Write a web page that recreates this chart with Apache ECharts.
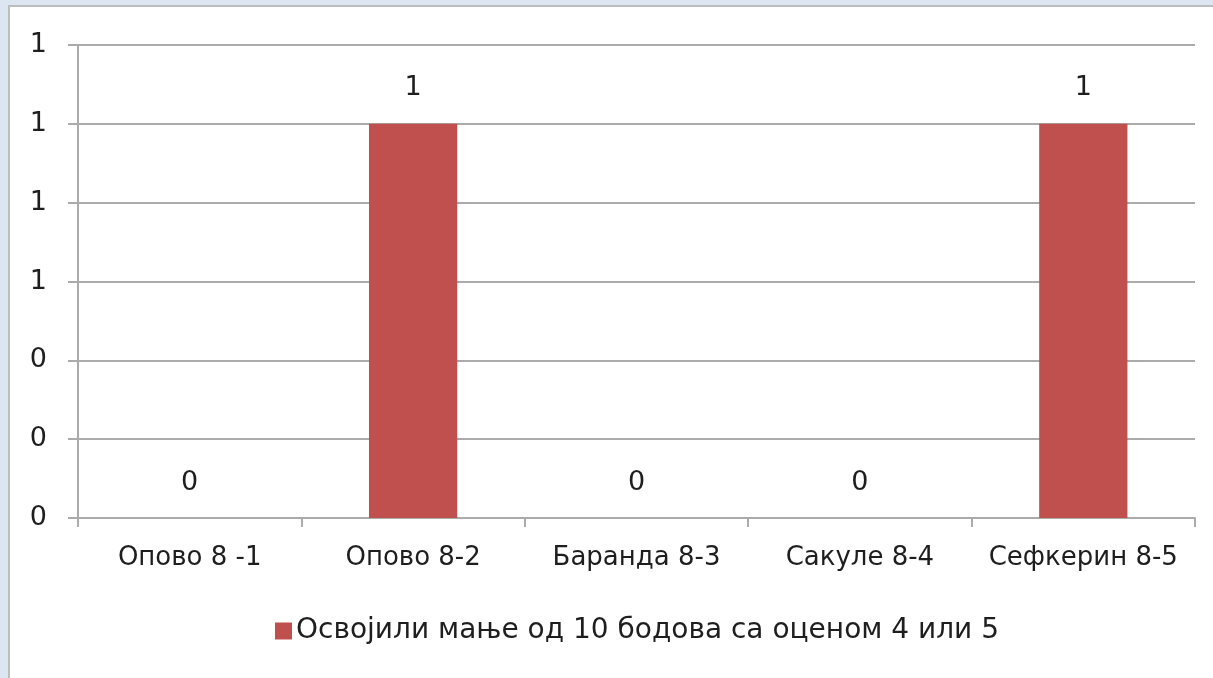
<!DOCTYPE html>
<html>
<head>
<meta charset="utf-8">
<script src="https://cdn.jsdelivr.net/npm/echarts@6/dist/echarts.min.js"></script>
<style>
  html, body { margin: 0; padding: 0; width: 1213px; height: 678px; overflow: hidden; background: #dce6f2; }
  #frame { position: absolute; left: 8px; top: 5px; width: 1300px; height: 800px; background: #fff; border-left: 2px solid #bdbdbd; border-top: 2px solid #bdbdbd; }
  #chart { position: absolute; left: 0; top: 0; width: 1213px; height: 678px; }
</style>
</head>
<body>
<div id="frame"></div>
<div id="chart"></div>
<script>
const categories = ['Опово 8 -1', 'Опово 8-2', 'Баранда 8-3', 'Сакуле 8-4', 'Сефкерин 8-5'];
const seriesName = 'Освојили мање од 10 бодова са оценом 4 или 5';
const values = [0, 1, 0, 0, 1];

const font = '"DejaVu Sans", "Noto Sans", sans-serif';
const gridColor = '#ababab';
const textColor = '#1e1e1e';

const chart = echarts.init(document.getElementById('chart'));
chart.setOption({
  animation: false,
  color: ['#c0504d'],
  textStyle: { fontFamily: font },
  grid: { left: 78, right: 18, top: 45, bottom: 160, containLabel: false },
  legend: {
    show: true,
    left: 270,
    top: 612,
    itemWidth: 17,
    itemHeight: 17,
    itemGap: 4,
    icon: 'rect',
    textStyle: { fontFamily: font, fontSize: 28, color: textColor, padding: [0, 0, 0, -1] },
    data: [seriesName]
  },
  xAxis: {
    type: 'category',
    data: categories,
    boundaryGap: true,
    axisLine: { lineStyle: { color: gridColor, width: 2 } },
    axisTick: { show: true, length: 9, lineStyle: { color: gridColor, width: 2 } },
    axisLabel: { color: textColor, fontFamily: font, fontSize: 26, margin: 27, interval: 0 },
    splitLine: { show: false }
  },
  yAxis: {
    type: 'value',
    min: 0,
    max: 1.2,
    interval: 0.2,
    axisLine: { show: true, lineStyle: { color: gridColor, width: 2 } },
    axisTick: { show: true, length: 10, lineStyle: { color: gridColor, width: 2 } },
    axisLabel: {
      color: textColor,
      fontFamily: font,
      fontSize: 27,
      margin: 31,
      formatter: (v) => String(Math.round(v))
    },
    splitLine: { lineStyle: { color: gridColor, width: 2 } }
  },
  series: [{
    name: seriesName,
    type: 'bar',
    data: values,
    barWidth: '39.5%',
    label: {
      show: true,
      position: 'top',
      distance: 22,
      color: textColor,
      fontSize: 27,
      fontFamily: font
    }
  }]
});
</script>
</body>
</html>
